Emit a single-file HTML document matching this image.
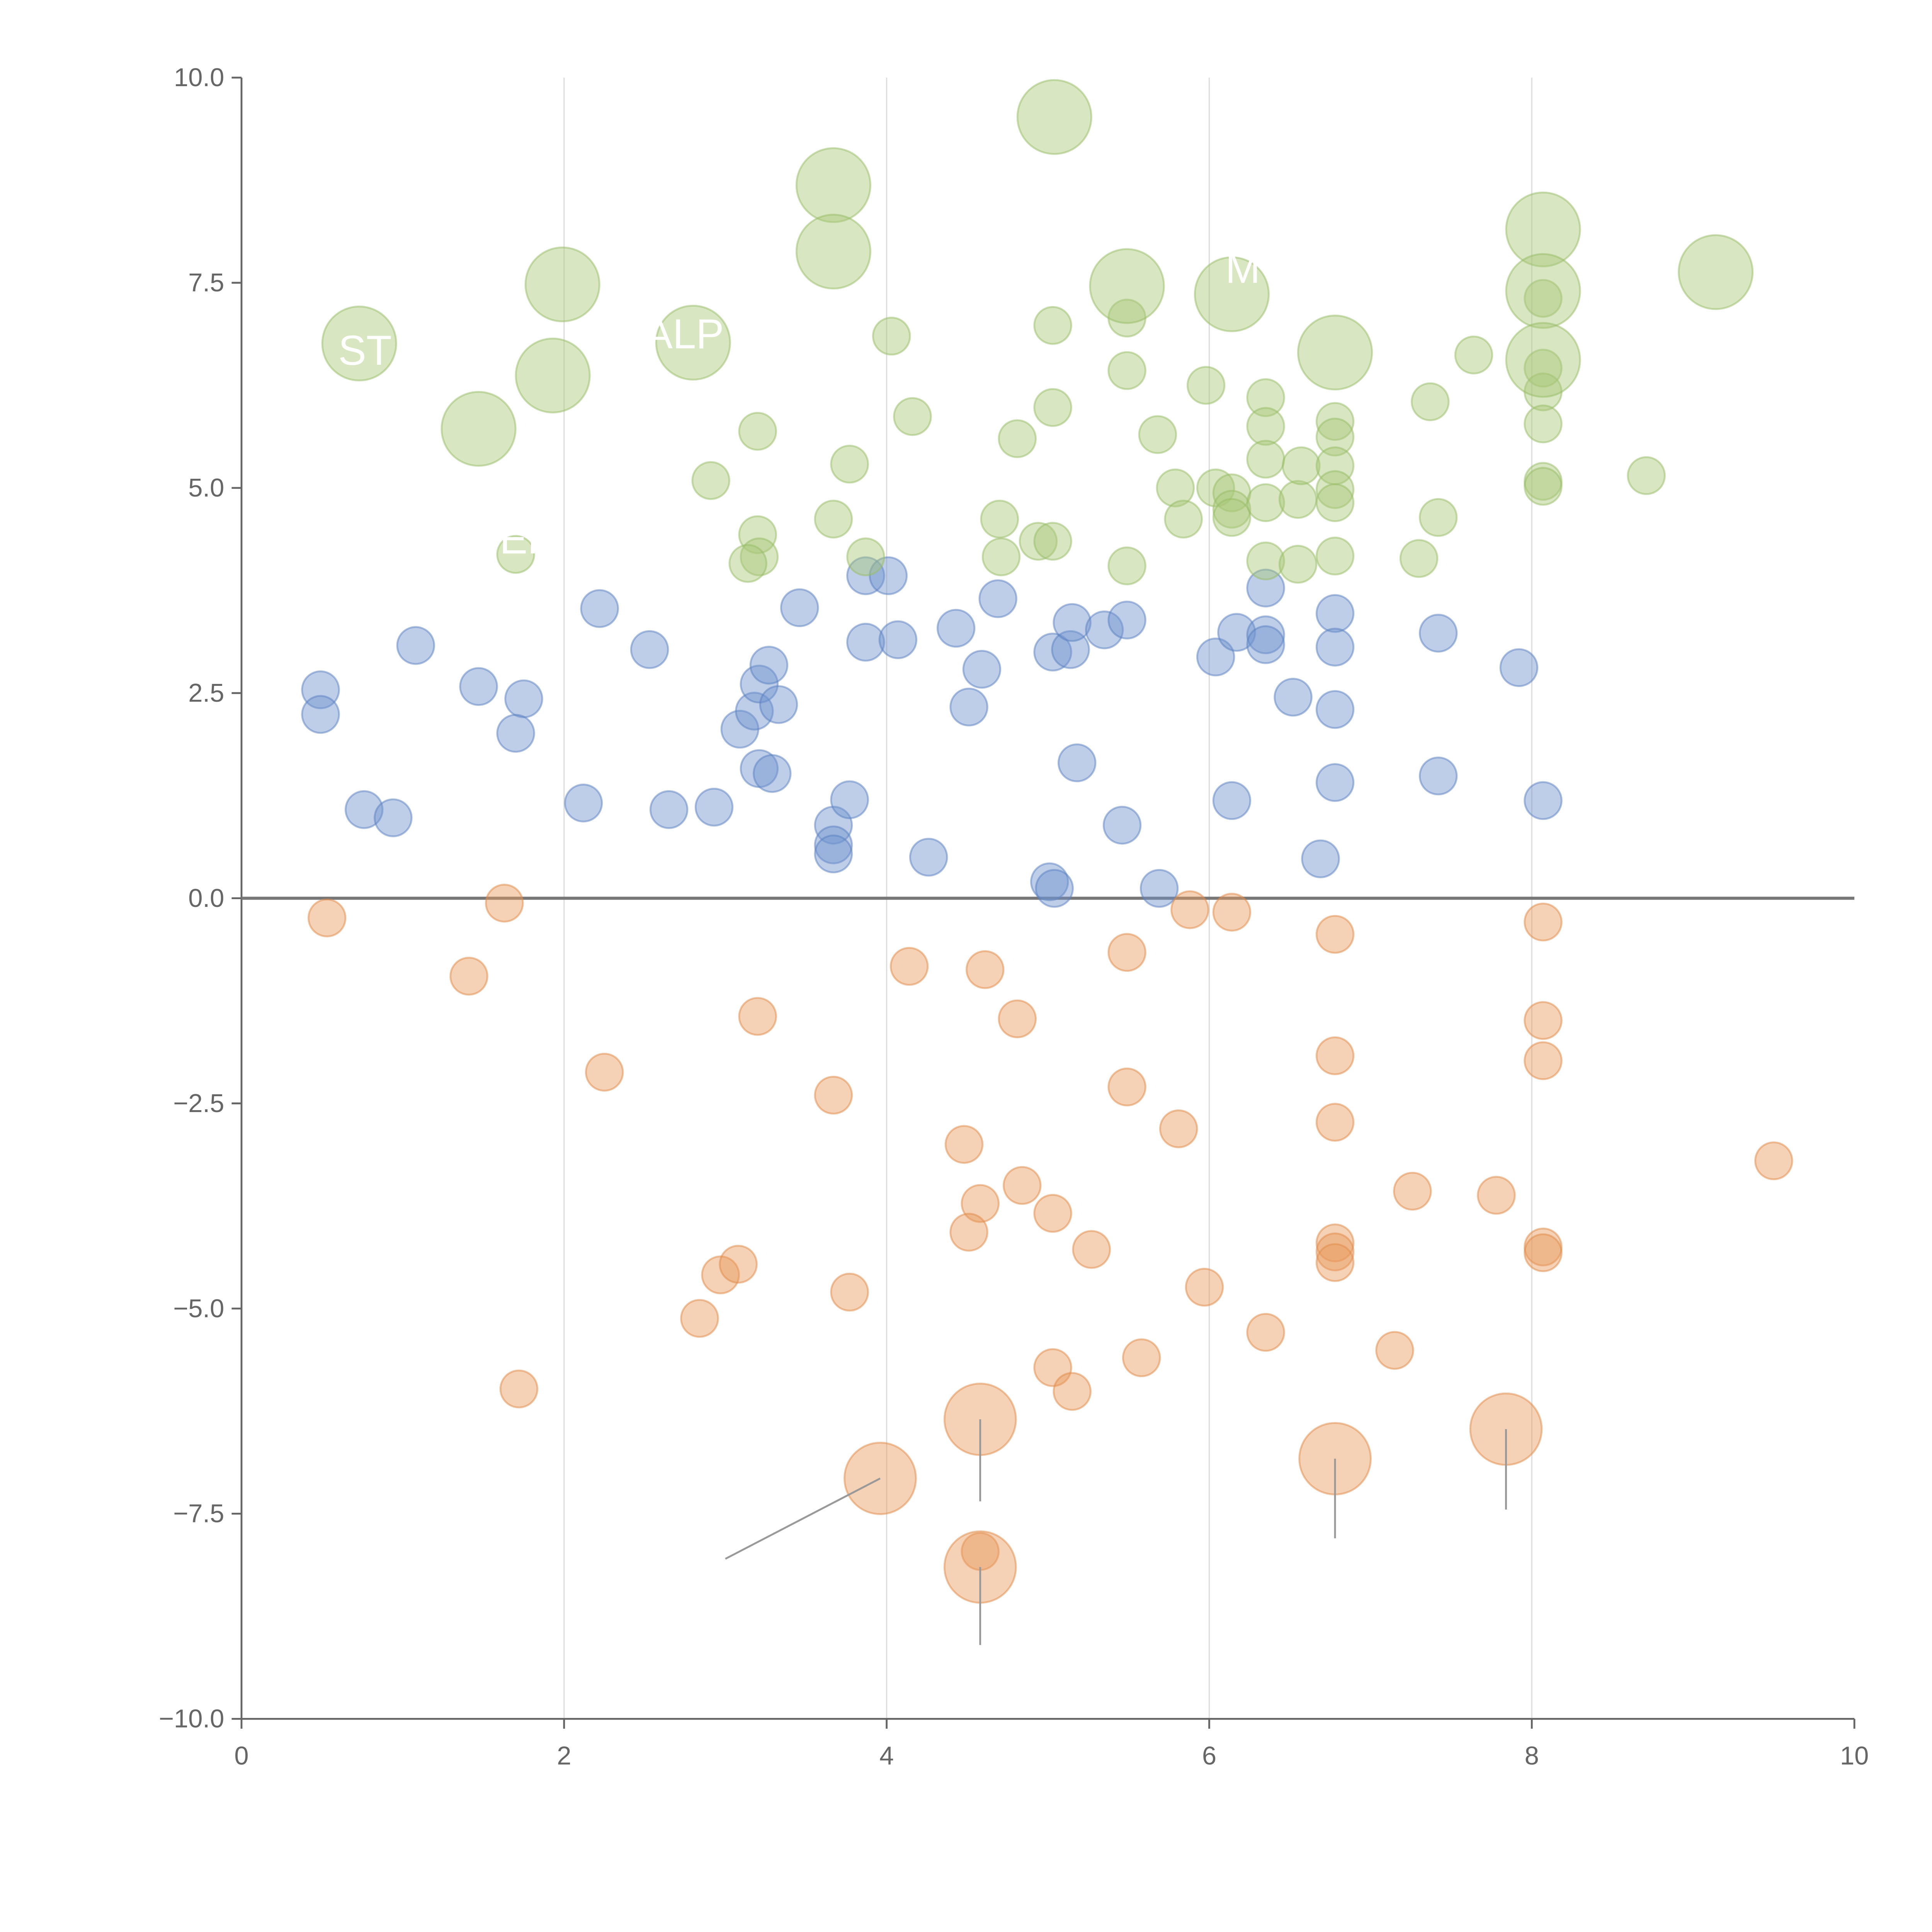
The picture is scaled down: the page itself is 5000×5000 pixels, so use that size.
<!DOCTYPE html>
<html><head><meta charset="utf-8">
<style>
html,body{margin:0;padding:0;background:#fff;}
svg{display:block;}
text{font-family:"Liberation Sans",sans-serif;}
</style></head>
<body>
<svg id="chart" width="5000" height="5000" viewBox="0 0 1568 1568" xmlns="http://www.w3.org/2000/svg">
<g id="grid"></g>
<g id="axes"></g>
<g id="marks"></g>
<g id="labels"></g>
</svg>
<script>
const xTicks = [0, 2, 4, 6, 8, 10];
const yTicks = [-10, -7.5, -5, -2.5, 0, 2.5, 5, 7.5, 10];
const blueX = [0.49,0.49,1.08,0.76,0.94,1.47,1.75,1.70,2.12,2.22,2.53,2.65,2.93,3.09,3.18,3.21,3.27,3.33,3.21,3.29,3.46,3.67,3.67,3.67,3.77,3.87,4.01,3.87,4.07,4.26,4.43,4.51,4.59,4.69,5.01,5.04,5.03,5.14,5.15,5.35,5.49,5.18,5.46,5.69,6.04,6.17,6.14,6.35,6.35,6.35,6.52,6.69,6.78,6.78,6.78,6.78,7.42,7.42,7.92,8.07];
const blueY = [2.54,2.24,3.08,1.08,0.98,2.58,2.43,2.01,1.16,3.53,3.03,1.08,1.11,2.06,2.28,2.61,2.84,2.36,1.58,1.52,3.54,0.89,0.65,0.54,1.20,3.93,3.93,3.12,3.15,0.50,3.29,2.33,2.79,3.65,0.20,0.12,3.00,3.03,3.36,3.27,3.39,1.65,0.89,0.12,2.94,3.24,1.19,3.78,3.21,3.09,2.45,0.48,3.47,3.06,2.30,1.41,3.23,1.49,2.81,1.19];
const orangeX = [0.53,1.63,1.41,3.20,2.25,3.67,1.72,2.84,2.97,3.08,3.77,4.14,4.61,4.81,4.48,4.84,4.58,4.51,5.03,5.27,5.03,5.15,5.58,5.49,5.49,5.81,5.88,6.14,5.97,6.35,6.78,6.78,6.78,6.78,6.78,6.78,7.15,7.26,7.78,8.07,8.07,8.07,8.07,8.07,9.50,4.58];
const orangeY = [-0.24,-0.06,-0.95,-1.44,-2.12,-2.40,-5.98,-5.12,-4.59,-4.46,-4.80,-0.83,-0.87,-1.47,-3.00,-3.50,-3.72,-4.07,-3.84,-4.28,-5.72,-6.01,-5.60,-0.66,-2.30,-2.81,-0.14,-0.17,-4.74,-5.29,-0.44,-1.92,-2.73,-4.20,-4.31,-4.44,-5.51,-3.57,-3.62,-0.29,-1.49,-1.98,-4.25,-4.32,-3.20,-7.96];
const orangeBigX = [3.96,4.58,4.58,6.78,7.84];
const orangeBigY = [-7.07,-6.35,-8.15,-6.83,-6.47];
const greenX = [1.70,2.91,3.20,3.20,3.21,3.14,3.67,3.77,3.87,4.03,4.16,4.70,4.71,4.81,4.94,5.03,5.03,5.03,5.49,5.49,5.49,5.68,5.79,5.84,5.98,6.04,6.14,6.14,6.14,6.35,6.35,6.35,6.35,6.35,6.55,6.55,6.57,6.78,6.78,6.78,6.78,6.78,6.78,7.30,7.37,7.42,7.64,8.07,8.07,8.07,8.07,8.07,8.07,8.71];
const greenY = [4.19,5.09,5.69,4.43,4.16,4.08,4.62,5.29,4.16,6.85,5.87,4.62,4.16,5.60,4.35,6.98,5.98,4.35,7.07,6.43,4.05,5.65,5.00,4.62,6.25,5.00,4.94,4.74,4.64,6.10,5.75,5.35,4.82,4.11,4.86,4.07,5.27,5.81,5.62,5.27,4.98,4.82,4.17,4.14,6.05,4.64,6.62,7.31,6.46,6.17,5.78,5.08,5.02,5.15];
const greenBigX = [0.73,1.47,1.93,1.99,2.80,3.67,3.67,5.04,5.49,6.14,6.78,8.07,8.07,8.07,9.14];
const greenBigY = [6.76,5.72,6.37,7.48,6.77,8.69,7.88,9.52,7.46,7.36,6.65,8.15,7.40,6.56,7.63];

const NS = "http://www.w3.org/2000/svg";
const X0 = 196, X1 = 1505, Y0 = 1395, Y1 = 63;
const xs = v => X0 + (v - 0) / 10 * (X1 - X0);
const ys = v => Y0 - (v + 10) / 20 * (Y0 - Y1);
function mk(tag, attrs, parent) {
  const e = document.createElementNS(NS, tag);
  for (const k in attrs) e.setAttribute(k, attrs[k]);
  parent.appendChild(e);
  return e;
}
const grid = document.getElementById('grid');
const axes = document.getElementById('axes');
const marks = document.getElementById('marks');
const labels = document.getElementById('labels');

xTicks.forEach(t => {
  if (t > 0 && t < 10) {
    const g = mk('line', {x1: xs(t), x2: xs(t), y1: Y1, y2: Y0, stroke: '#dddddd', 'stroke-width': 1}, grid);
    
    
  }
  const tk = mk('line', {x1: xs(t), x2: xs(t), y1: Y0, y2: Y0 + 8, stroke: '#666', 'stroke-width': 1.5}, axes);
  
  
  const lb = mk('text', {x: xs(t), y: Y0 + 37, 'text-anchor': 'middle', 'font-size': 21, fill: '#666'}, axes);
  lb.textContent = t;
  
  
});
yTicks.forEach(t => {
  const tk = mk('line', {x1: X0 - 8, x2: X0, y1: ys(t), y2: ys(t), stroke: '#666', 'stroke-width': 1.5}, axes);
  
  
  const lb = mk('text', {x: X0 - 14, y: ys(t) + 7, 'text-anchor': 'end', 'font-size': 21, fill: '#666'}, axes);
  lb.textContent = (t < 0 ? '\u2212' + Math.abs(t).toFixed(1) : t.toFixed(1));
  
  
});
const xa = mk('line', {x1: X0, x2: X1, y1: Y0, y2: Y0, stroke: '#666', 'stroke-width': 1.5}, axes);


const ya = mk('line', {x1: X0, x2: X0, y1: Y1, y2: Y0, stroke: '#666', 'stroke-width': 1.5}, axes);



function series(xArr, yArr, r, fill, stroke, name) {
  xArr.forEach((v, i) => {
    const c = mk('circle', {cx: xs(v), cy: ys(yArr[i]), r: r, fill: fill, 'fill-opacity': 0.45, stroke: stroke, 'stroke-opacity': 0.5, 'stroke-width': 1.5}, marks);
    
    
  });
}
series(blueX, blueY, 15, '#6f93cf', '#5a7fc0', 'blue-point');
series(orangeX, orangeY, 15, '#e8985a', '#e08a48', 'orange-point');
series(greenX, greenY, 15, '#a8c878', '#98bc66', 'green-point');
series(orangeBigX, orangeBigY, 29, '#e8985a', '#e08a48', 'orange-big-point');
series(greenBigX, greenBigY, 30, '#a8c878', '#98bc66', 'green-big-point');

const leads = [[3.96,-7.07,3.0,-8.05],[4.58,-6.35,4.58,-7.35],[4.58,-8.15,4.58,-9.1],[6.78,-6.83,6.78,-7.8],[7.84,-6.47,7.84,-7.45]];
leads.forEach(l => {
  const ln = mk('line', {x1: xs(l[0]), y1: ys(l[1]), x2: xs(l[2]), y2: ys(l[3]), stroke: '#999', 'stroke-width': 1.5}, labels);
  
  
});

const zl = mk('line', {x1: X0, x2: X1, y1: ys(0), y2: ys(0), stroke: '#777', 'stroke-width': 2.5}, axes);



const wl = [[0.6,6.5,'ST'],[2.5,6.7,'ALP'],[6.1,7.5,'M'],[1.6,4.2,'EF']];
wl.forEach(w => {
  const t = mk('text', {x: xs(w[0]), y: ys(w[1]), 'font-size': 34, fill: '#fff'}, labels);
  t.textContent = w[2];
  
  
});
</script>
</body></html>
